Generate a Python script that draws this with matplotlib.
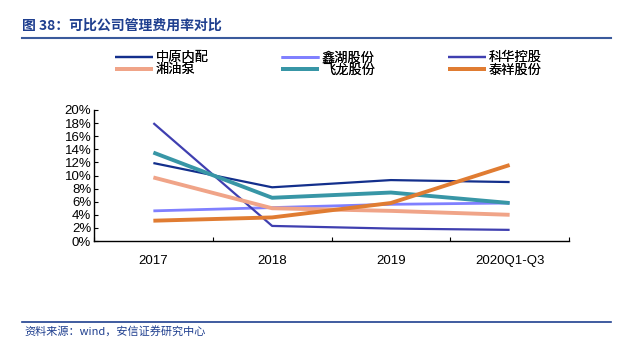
import matplotlib
matplotlib.use("Agg")
import matplotlib.pyplot as plt
import numpy as np

plt.rcParams['font.family'] = ['Liberation Sans', 'Noto Sans CJK SC', 'DejaVu Sans']

categories = ['2017', '2018', '2019', '2020Q1-Q3']
zhongyuan = [11.9, 8.2, 9.3, 9.0]
xinhu = [4.6, 5.1, 5.6, 5.8]
kehua = [18.0, 2.3, 1.9, 1.7]
xiangyoubeng = [9.7, 5.0, 4.6, 4.0]
feilong = [13.5, 6.6, 7.4, 5.8]
taixiang = [3.1, 3.6, 5.8, 11.6]

series = [
    ('中原内配', zhongyuan, '#132f8c', 1.6),
    ('鑫湖股份', xinhu, '#8080ff', 2.0),
    ('科华控股', kehua, '#3f3fb0', 1.6),
    ('湘油泵', xiangyoubeng, '#f0a488', 2.8),
    ('飞龙股份', feilong, '#3896a6', 2.8),
    ('泰祥股份', taixiang, '#e07c32', 2.8),
]

W, H = 617, 351
fig = plt.figure(figsize=(W / 100, H / 100), dpi=100)
ax = fig.add_axes([94 / W, 1 - 241 / H, (569 - 94) / W, (241 - 110) / H])

x = np.arange(len(categories))
handles = []
for name, vals, color, lw in series:
    h, = ax.plot(x, vals, color=color, lw=lw, label=name, solid_capstyle='butt')
    handles.append(h)

ax.set_xlim(-0.5, len(categories) - 0.5)
ax.set_ylim(0, 20)
ax.set_yticks(np.arange(0, 21, 2))
ax.set_yticklabels([f'{v}%' for v in range(0, 21, 2)], fontsize=9.5)
ax.set_xticks(x)
ax.set_xticklabels(categories, fontsize=9.5)
ax.set_xticks(np.arange(-0.5, len(categories), 1), minor=True)
ax.tick_params(axis='x', which='major', length=0, pad=10)
ax.tick_params(axis='x', which='minor', direction='in', length=3, width=0.8)
ax.tick_params(axis='y', direction='in', length=3, width=0.8, pad=2)
for s in ['top', 'right']:
    ax.spines[s].set_visible(False)
for s in ['left', 'bottom']:
    ax.spines[s].set_linewidth(1.0)

# legend: three columns, each a separate legend (row-wise order like the reference)
col_x = [115, 281, 448]
for c in range(3):
    hs = [handles[c], handles[c + 3]]
    leg = fig.legend(handles=hs, loc='upper left',
                     bbox_to_anchor=(col_x[c] / W, 1 - 52 / H), frameon=False,
                     fontsize=9.5, handlelength=2.9, handletextpad=0.2,
                     labelspacing=0.0, borderaxespad=0, borderpad=0)
    fig.add_artist(leg)

title_color = '#1f3f8f'
fig.text(22 / W, 1 - 26 / H, '图 38：可比公司管理费用率对比', fontsize=10,
         fontweight='bold', color=title_color, va='center', ha='left',
         family=['Noto Sans CJK SC', 'DejaVu Sans'])
fig.add_artist(plt.Line2D([22 / W, 611 / W], [1 - 38 / H, 1 - 38 / H],
                          color='#3a5a9c', lw=1.5))
fig.add_artist(plt.Line2D([22 / W, 611 / W], [1 - 322 / H, 1 - 322 / H],
                          color='#1f3f8f', lw=1.2))
fig.text(24 / W, 1 - 331 / H, '资料来源：wind，安信证券研究中心', fontsize=8,
         style='italic', color=title_color, va='center', ha='left',
         family=['Noto Sans CJK SC', 'DejaVu Sans'])

fig.savefig('out.png', dpi=100)
